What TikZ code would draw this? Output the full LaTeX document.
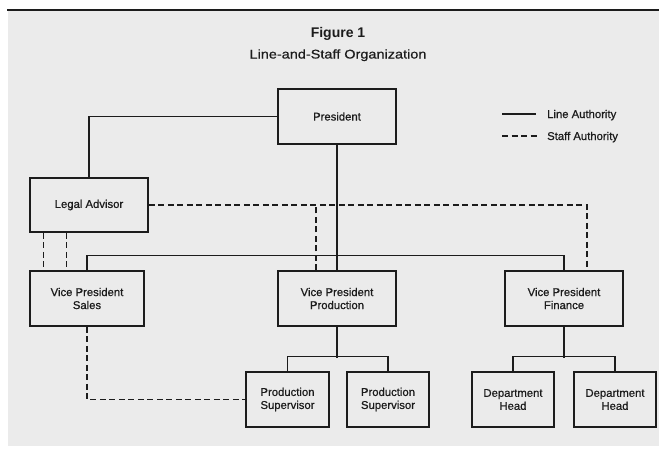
\documentclass[tikz,border=0pt]{standalone}
\usepackage{fontspec}
\setmainfont{Liberation Sans}
\newfontfamily\subfont[FakeStretch=1.15,FakeBold=0.6]{Liberation Sans}
\newfontfamily\boxfont[FakeBold=0.7]{Liberation Sans}
\definecolor{bgc}{HTML}{EBEBEB}
\definecolor{ink}{HTML}{1C1C1C}
\tikzset{
  box/.style={draw=ink, line width=1.5pt, fill=bgc, inner sep=0pt, align=center,
    text=ink, font=\boxfont\fontsize{11.3}{13}\selectfont},
  lineauth/.style={draw=ink, line width=1.5pt},
  staffauth/.style={draw=ink, line width=1.5pt, dash pattern=on 6pt off 3.5pt},
  lbl/.style={text=ink, inner sep=0pt},
}
\begin{document}
\begin{tikzpicture}[x=1pt, y=-1pt]
\useasboundingbox (0,0) rectangle (659,448);
\fill[white] (0,0) rectangle (659,448);
\fill[bgc] (8,10.5) rectangle (659,446);
\draw[ink, line width=2pt] (7,9.5) -- (659,9.5);

% titles
\node[lbl, anchor=base, font=\fontsize{14}{16}\selectfont\bfseries] (fig) at (338,37) {Figure 1};
\node[lbl, anchor=base, font=\subfont\fontsize{12.6}{15}\selectfont] (sub) at (338,58.5) {Line-and-Staff Organization};

% boxes
\node[box, minimum width=118, minimum height=55] (pres) at (337,116.5) {President};
\node[box, minimum width=118, minimum height=54] (legal) at (89,205) {Legal Advisor};
\node[box, minimum width=114, minimum height=55] (vps) at (87,298.5) {Vice President\\Sales};
\node[box, minimum width=118, minimum height=55] (vpp) at (337,298.5) {Vice President\\Production};
\node[box, minimum width=118, minimum height=55] (vpf) at (564,298.5) {Vice President\\Finance};
\node[box, minimum width=83, minimum height=55] (ps1) at (287.5,399.5) {Production\\Supervisor};
\node[box, minimum width=82, minimum height=55] (ps2) at (388,399.5) {Production\\Supervisor};
\node[box, minimum width=82, minimum height=55] (dh1) at (513,399.5) {Department\\Head};
\node[box, minimum width=82, minimum height=55] (dh2) at (615,399.5) {Department\\Head};

% line authority
\draw[lineauth] (pres.west) -| (legal.north);
\draw[lineauth] (pres.south) -- (vpp.north);
\draw[lineauth] (vps.north) -- ++(0,-15) -| (vpf.north);
\draw[lineauth] (vpp.south) -- ++(0,31);
\draw[lineauth] (ps1.north) -- ++(0,-15) -| (ps2.north);
\draw[lineauth] (vpf.south) -- ++(0,31);
\draw[lineauth] (dh1.north) -- ++(0,-15) -| (dh2.north);

% staff authority
\coordinate (fd) at ([xshift=23]vpf.north);
\coordinate (pd) at ([xshift=-21]vpp.north);
\coordinate (la1) at ([xshift=14]legal.south west);
\coordinate (la2) at ([xshift=37]legal.south west);
\draw[staffauth] (legal.east) -| (fd);
\draw[staffauth] (pd) -- (pd |- legal.east);
\draw[staffauth] (la1) -- (la1 |- vps.north);
\draw[staffauth] (la2) -- (la2 |- vps.north);
\draw[staffauth] (vps.south) |- (ps1.west);

% legend
\coordinate (l1a) at (502,114);
\coordinate (l1b) at (536,114);
\coordinate (l2a) at (502,136);
\coordinate (l2b) at (537,136);
\draw[lineauth] (l1a) -- (l1b);
\draw[staffauth] (l2a) -- (l2b);
\node[lbl, anchor=base west, font=\boxfont\fontsize{11.3}{13}\selectfont] (lt1) at (547,118) {Line Authority};
\node[lbl, anchor=base west, font=\boxfont\fontsize{11.3}{13}\selectfont] (lt2) at (547,140) {Staff Authority};
\end{tikzpicture}
\end{document}
